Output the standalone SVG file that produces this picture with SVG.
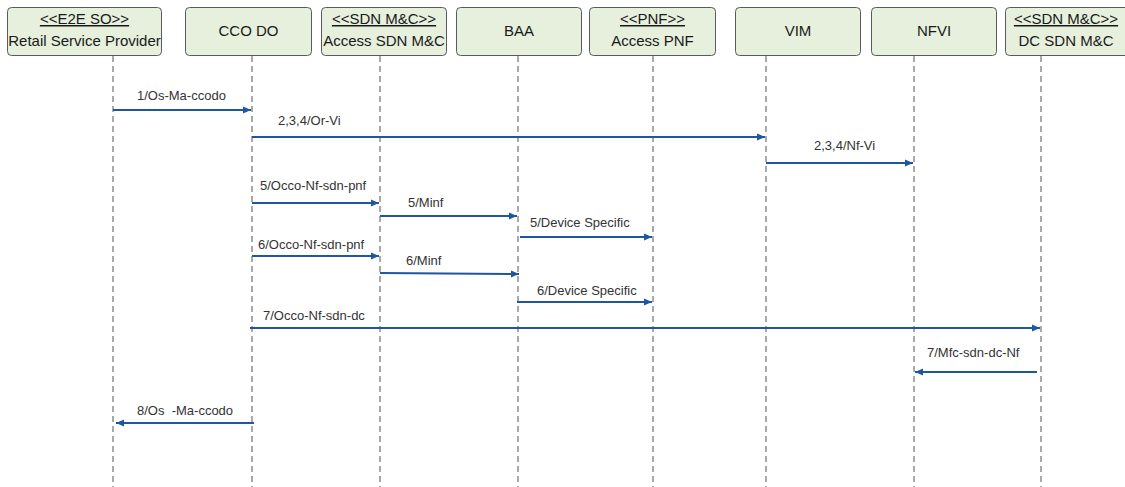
<svg xmlns="http://www.w3.org/2000/svg" width="1125" height="487" viewBox="0 0 1125 487">
<style>
.box{fill:#e6f0dc;stroke:#5a5a5a;stroke-width:1}
.bt{font-family:"Liberation Sans",Arial,sans-serif;font-size:15px;fill:#1a1a1a;text-anchor:middle}
.u{text-decoration:underline}
.life{stroke:#555;stroke-width:1;stroke-dasharray:6,4;fill:none}
.msg{stroke:#1f56a0;stroke-width:2;fill:none;marker-end:url(#ah)}
.lbl{font-family:"Liberation Sans",Arial,sans-serif;font-size:13px;fill:#333}
</style>
<defs>
<marker id="ah" markerUnits="userSpaceOnUse" markerWidth="9" markerHeight="8" refX="8" refY="4" orient="auto">
<path d="M0,0.5 L8,4 L0,7.5 Z" fill="#1f56a0"/>
</marker>
</defs>
<rect width="1125" height="487" fill="#fff"/>
<g id="lifelines">
<line class="life" x1="113" y1="56" x2="113" y2="487"/>
<line class="life" x1="252" y1="56" x2="252" y2="487"/>
<line class="life" x1="380" y1="56" x2="380" y2="487"/>
<line class="life" x1="518" y1="56" x2="518" y2="487"/>
<line class="life" x1="653" y1="56" x2="653" y2="487"/>
<line class="life" x1="766" y1="56" x2="766" y2="487"/>
<line class="life" x1="914" y1="56" x2="914" y2="487"/>
<line class="life" x1="1041" y1="56" x2="1041" y2="487"/>
</g>
<g id="n-e2e"><rect class="box" x="7.5" y="7.5" width="154" height="48" rx="4"/><text class="bt u" x="84.5" y="24">&lt;&lt;E2E SO&gt;&gt;</text><text class="bt" x="84.5" y="46">Retail Service Provider</text></g>
<g id="n-cco"><rect class="box" x="185.5" y="7.5" width="126" height="48" rx="4"/><text class="bt" x="248.5" y="36">CCO DO</text></g>
<g id="n-asdn"><rect class="box" x="321.5" y="7.5" width="125" height="48" rx="4"/><text class="bt u" x="384" y="24">&lt;&lt;SDN M&amp;C&gt;&gt;</text><text class="bt" x="384" y="46">Access SDN M&amp;C</text></g>
<g id="n-baa"><rect class="box" x="456.5" y="7.5" width="125" height="48" rx="4"/><text class="bt" x="519" y="36">BAA</text></g>
<g id="n-pnf"><rect class="box" x="589.5" y="7.5" width="126" height="48" rx="4"/><text class="bt u" x="652.5" y="24">&lt;&lt;PNF&gt;&gt;</text><text class="bt" x="652.5" y="46">Access PNF</text></g>
<g id="n-vim"><rect class="box" x="735.5" y="7.5" width="125" height="48" rx="4"/><text class="bt" x="798" y="36">VIM</text></g>
<g id="n-nfvi"><rect class="box" x="871.5" y="7.5" width="125" height="48" rx="4"/><text class="bt" x="934" y="36">NFVI</text></g>
<g id="n-dcsdn"><rect class="box" x="1005.5" y="7.5" width="125" height="48" rx="4"/><text class="bt u" x="1066" y="24">&lt;&lt;SDN M&amp;C&gt;&gt;</text><text class="bt" x="1066" y="46">DC SDN M&amp;C</text></g>
<g id="connectors">
<line class="msg" x1="113" y1="110" x2="251" y2="110"/>
<text class="lbl" x="137" y="100">1/Os-Ma-ccodo</text>
<line class="msg" x1="252" y1="137" x2="765" y2="137"/>
<text class="lbl" x="278" y="125">2,3,4/Or-Vi</text>
<line class="msg" x1="766" y1="163" x2="913" y2="163"/>
<text class="lbl" x="814" y="150">2,3,4/Nf-Vi</text>
<line class="msg" x1="252" y1="203" x2="379" y2="203"/>
<text class="lbl" x="260" y="190">5/Occo-Nf-sdn-pnf</text>
<line class="msg" x1="380" y1="216" x2="517" y2="216"/>
<text class="lbl" x="408" y="207">5/Minf</text>
<line class="msg" x1="520" y1="237" x2="652" y2="237"/>
<text class="lbl" x="530" y="227">5/Device Specific</text>
<line class="msg" x1="252" y1="256" x2="379" y2="256"/>
<text class="lbl" x="258" y="249">6/Occo-Nf-sdn-pnf</text>
<line class="msg" x1="380" y1="273" x2="519" y2="274"/>
<text class="lbl" x="406" y="265">6/Minf</text>
<line class="msg" x1="517" y1="302" x2="652" y2="302"/>
<text class="lbl" x="537" y="295">6/Device Specific</text>
<line class="msg" x1="250" y1="328" x2="1040" y2="328"/>
<text class="lbl" x="263" y="320">7/Occo-Nf-sdn-dc</text>
<line class="msg" x1="1037" y1="372" x2="915" y2="372"/>
<text class="lbl" x="927" y="357">7/Mfc-sdn-dc-Nf</text>
<line class="msg" x1="254" y1="423" x2="116" y2="423"/>
<text class="lbl" x="137" y="415" xml:space="preserve">8/Os  -Ma-ccodo</text>
</g>
</svg>
